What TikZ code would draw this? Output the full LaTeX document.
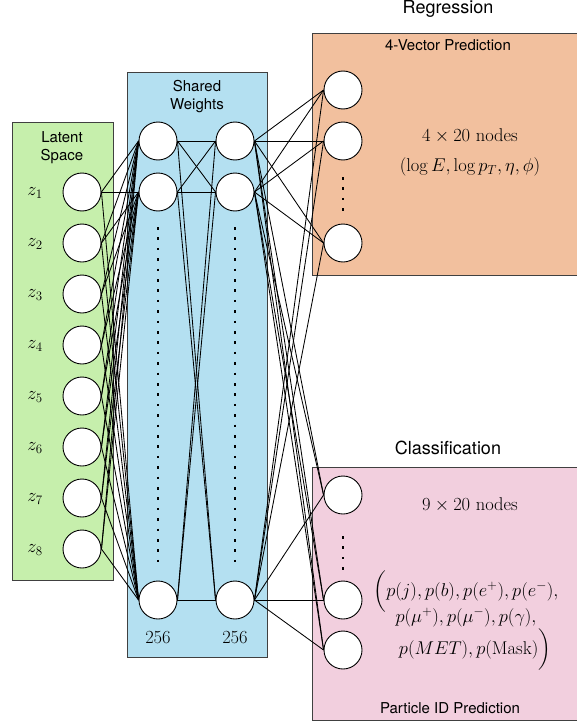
\documentclass[tikz,border=0pt]{standalone}
\usepackage{fix-cm}
\usepackage{amsmath}
\usepackage{fontspec}
\setsansfont{TeX Gyre Heros}
\definecolor{LatentGreen}{RGB}{198,239,172}
\definecolor{SharedBlue}{RGB}{180,224,241}
\definecolor{RegOrange}{RGB}{242,192,158}
\definecolor{ClassPink}{RGB}{242,207,222}

\begin{document}
\begin{tikzpicture}[x=1pt, y=-1pt,
	neuron/.style={circle, draw, fill=white, line width=0.9pt, minimum size=38pt, inner sep=0pt},
	panel/.style={draw=black!75, line width=0.9pt},
	link/.style={line width=0.85pt},
	vdots/.style={line width=2.6pt, dash pattern=on 2.6pt off 7.8pt},
	head/.style={font=\sffamily\fontsize{15}{18}\selectfont, align=center},
	title/.style={font=\sffamily\fontsize{18}{22}\selectfont},
	maths/.style={font=\fontsize{18.5}{22}\selectfont, align=center, inner sep=1pt}]
		\useasboundingbox (0,0) rectangle (577,725);
		% panels
		\draw[panel, fill=LatentGreen] (12,122) rectangle (113,580);
		\draw[panel, fill=SharedBlue] (127,72) rectangle (267,657);
		\fill[RegOrange] (312,33) rectangle (577,275);
		\draw[panel] (577,33) -- (312,33) -- (312,275) -- (577,275);
		\fill[ClassPink] (312,467) rectangle (577,720);
		\draw[panel] (577,467) -- (312,467) -- (312,720) -- (577,720);
		\node[head] (latent) at (62,148) {Latent\\Space};
		\node[head] (shared) at (197,97) {Shared\\Weights};
		\node[title] (reg) at (448,9) {Regression};
		\node[head] (regsub) at (448,45) {4-Vector Prediction};
		\node[title] (cls) at (448,448) {Classification};
		\node[head] (clssub) at (450,708) {Particle ID Prediction};
		% latent inputs
		\foreach \i in {1,...,8} {
			\node[neuron] (z\i) at (82,{192+51*(\i-1)}) {};
			\node[maths] (zl\i) at (35,{193+51*(\i-1)}) {$z_{\i}$};
		}
		% shared layers
		\node[neuron] (wa1) at (158,141) {};
		\node[neuron] (wa2) at (158,192) {};
		\node[neuron] (wa3) at (158,600) {};
		\node[neuron] (wb1) at (235,141) {};
		\node[neuron] (wb2) at (235,192) {};
		\node[neuron] (wb3) at (235,600) {};
		\draw[vdots] (158,227) -- (158,570);
		\draw[vdots] (235,227) -- (235,570);
		\node[maths] (na) at (158,638) {$256$};
		\node[maths] (nb) at (235,638) {$256$};
		% regression head
		\node[neuron] (r1) at (343,90) {};
		\node[neuron] (r2) at (343,141) {};
		\node[neuron] (r3) at (343,243) {};
		\draw[vdots] (343,177) -- (343,212);
		\node[maths] (rcount) at (470,136) {$4\times20$ nodes};
		\node[maths] (rvars) at (470,167) {$(\log E, \log p_T, \eta, \phi)$};
		% classification head
		\node[maths] (ccount) at (470,505) {$9\times20$ nodes};
		\node[neuron] (c1) at (343,495) {};
		\node[neuron] (c2) at (343,600) {};
		\node[neuron] (c3) at (343,650) {};
		\draw[vdots] (343,536) -- (343,570);
		\node[maths, anchor=base] (cvars1) at (466,596) {$\biggl(p(j), p(b), p(e^+), p(e^-),$};
		\node[maths, anchor=base] (cvars2) at (466,622) {$p(\mu^+), p(\mu^-), p(\gamma),$};
		\node[maths, anchor=base] (cvars3) at (475,654) {$p(MET), p(\mathrm{Mask})\biggr)$};
		% connections
		\foreach \i in {1,...,8}
			\foreach \j in {1,2,3}
				\draw[link] (z\i.east) -- (wa\j.west);
		\foreach \i in {1,2,3}
			\foreach \j in {1,2,3}
				\draw[link] (wa\i.east) -- (wb\j.west);
		\foreach \i in {1,2,3}
			\foreach \t in {r1,r2,r3,c1,c2,c3}
				\draw[link] (wb\i.east) -- (\t.west);
	\end{tikzpicture}
\end{document}
